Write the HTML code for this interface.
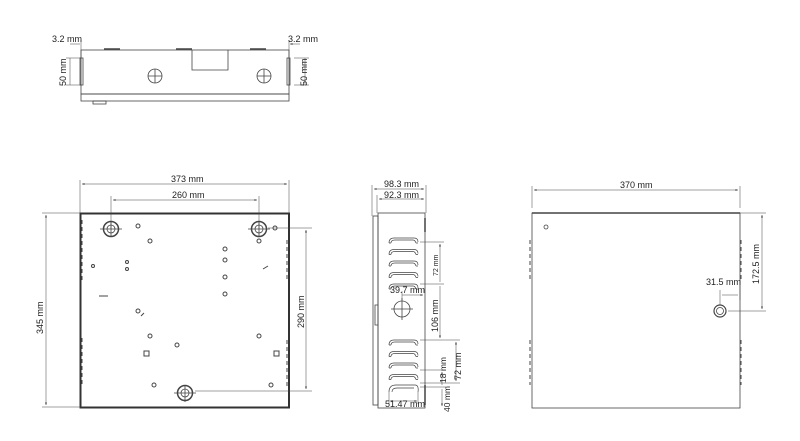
<!DOCTYPE html>
<html><head><style>
html,body{margin:0;padding:0;background:#fff;}
svg{display:block;}
text{font-family:"Liberation Sans",sans-serif;font-size:9px;fill:#222;}
</style></head><body>
<svg width="800" height="441" viewBox="0 0 800 441" xmlns="http://www.w3.org/2000/svg">
<defs>
<marker id="a" viewBox="0 0 6 6" refX="6" refY="3" markerWidth="5" markerHeight="5" orient="auto-start-reverse"><path d="M0,0.8 L6,3 L0,5.2 z" fill="#333"/></marker>
</defs>
<g stroke="#444" fill="none" stroke-width="0.8">
<!-- TOP VIEW -->
<rect x="81" y="50" width="208" height="44"/>
<rect x="81" y="94" width="208" height="7"/>
<rect x="93" y="101" width="13" height="3"/>
<rect x="80" y="58" width="3" height="27"/>
<rect x="287" y="58" width="3" height="27"/>
<path d="M192,50 V70 H228 V50"/>
<path d="M104,49 H120 M176,49 H192 M250,49 H266" stroke-width="1.5"/>
<circle cx="155" cy="76" r="7"/><path d="M148,76 H162 M155,69 V83"/>
<circle cx="264" cy="76" r="7"/><path d="M257,76 H271 M264,69 V83"/>
<path d="M81,40 V58 M289,40 V58" stroke-width="0.5"/>
<path d="M70,44 H80 M300,44 H290" marker-end="url(#a)" stroke-width="0.5"/>
<path d="M66,58 H81 M66,85 H81 M294,58 H309 M294,85 H309" stroke-width="0.5"/>
<path d="M70,58 V85 M305,58 V85" stroke-width="0.5"/>

<!-- FRONT VIEW -->
<rect x="80.5" y="213.5" width="208.5" height="194" stroke-width="2" stroke="#333"/>
<path d="M80,213 V180 M289,213 V180 M111,229 V196 M259,229 V196" stroke-width="0.5"/>
<path d="M82,184 H287" marker-start="url(#a)" marker-end="url(#a)" stroke-width="0.5"/>
<path d="M113,200 H257" marker-start="url(#a)" marker-end="url(#a)" stroke-width="0.5"/>
<path d="M42,213 H80 M42,407 H80" stroke-width="0.5"/>
<path d="M46,215 V405" marker-start="url(#a)" marker-end="url(#a)" stroke-width="0.5"/>
<path d="M268,228 H312 M195,391 H312" stroke-width="0.5"/>
<path d="M306,230 V389" marker-start="url(#a)" marker-end="url(#a)" stroke-width="0.5"/>
<g stroke-width="1.5"><circle cx="111" cy="229" r="7.5"/><circle cx="259" cy="229" r="7.5"/><circle cx="185" cy="393" r="7.5"/></g>
<g stroke-width="0.8"><circle cx="111" cy="229" r="4"/><circle cx="259" cy="229" r="4"/><circle cx="185" cy="393" r="4"/>
<path d="M100,229 H122 M111,222 V236 M248,229 H270 M259,222 V236 M174,393 H196 M185,386 V402"/></g>
<g stroke-width="1">
<circle cx="138" cy="226" r="2"/><circle cx="150" cy="241" r="2"/><circle cx="225" cy="249" r="2"/><circle cx="225" cy="260" r="2"/>
<circle cx="225" cy="277" r="2"/><circle cx="225" cy="294" r="2"/><circle cx="275" cy="228" r="2"/><circle cx="259" cy="241" r="2"/>
<circle cx="93" cy="266" r="1.5"/><circle cx="127" cy="262" r="1.5"/><circle cx="127" cy="269" r="1.5"/>
<circle cx="138" cy="311" r="2"/><circle cx="150" cy="336" r="2"/><circle cx="177" cy="345" r="2"/><circle cx="259" cy="336" r="2"/>
<circle cx="154" cy="385" r="2"/><circle cx="271" cy="385" r="2"/>
<path d="M263,269 L268,266 M141,316 L144,313 M99,296 H108"/>
<rect x="144" y="351" width="5" height="5"/><rect x="274" y="351" width="5" height="5"/>
</g>
<path d="M82,220 V280 M82,338 V385 M287,240 V282 M287,340 V386" stroke-dasharray="4,3" stroke-width="1"/>

<!-- SIDE VIEW -->
<rect x="378" y="213" width="47" height="195"/>
<rect x="373" y="216" width="5" height="189"/>
<path d="M375,305 H378 V325 H375 z"/>
<path d="M425,218 V232 M425,385 V405" stroke-width="1.5"/>
<path d="M372,216 V185 M426,213 V185 M377,213 V195" stroke-width="0.5"/>
<path d="M374,189 H424" marker-start="url(#a)" marker-end="url(#a)" stroke-width="0.5"/>
<path d="M379,199 H424" marker-start="url(#a)" marker-end="url(#a)" stroke-width="0.5"/>
<g stroke-width="0.7">
<g id="lv"><path d="M389,243 q0,-5 5,-5 h20 q4,0 4,4 M391,243 q0,-3 4,-3 h18 q2,0 3,3 M389,243 h2 M416,243 h2"/></g>
<use href="#lv" y="11.5"/><use href="#lv" y="23"/><use href="#lv" y="34.5"/><use href="#lv" y="46"/>
<use href="#lv" y="102"/><use href="#lv" y="113.5"/><use href="#lv" y="125"/><use href="#lv" y="136.5"/>
<path d="M389,392 q0,-7 7,-7 h19 q4,0 3,7 M392,392 q0,-4 5,-4 h17"/>
</g>
<circle cx="402" cy="309" r="8"/><path d="M391,309 H413 M402,298 V320"/>
<path d="M420,242 H444 M420,284 H444 M420,340 H460 M420,383 H460 M420,370 H446 M420,387 H446" stroke-width="0.5"/>
<path d="M440,244 V282 M440,286 V338" marker-start="url(#a)" marker-end="url(#a)" stroke-width="0.5"/>
<path d="M456,342 V381" marker-start="url(#a)" marker-end="url(#a)" stroke-width="0.5"/>
<path d="M442,372 V385 M442,389 V406" marker-start="url(#a)" marker-end="url(#a)" stroke-width="0.5"/>
<path d="M402,291 V300 M402,295 H423" stroke-width="0.5" marker-end="url(#a)"/>
<path d="M389,392 V404 M418,392 V404" stroke-width="0.5"/>
<path d="M390,401 H417" marker-start="url(#a)" marker-end="url(#a)" stroke-width="0.5"/>

<!-- RIGHT VIEW -->
<rect x="532" y="213" width="208" height="195"/>
<path d="M532,213 H740" stroke-width="1.5"/>
<path d="M532,208 V186 M740,208 V186" stroke-width="0.5"/>
<path d="M534,190 H738" marker-start="url(#a)" marker-end="url(#a)" stroke-width="0.5"/>
<path d="M740,213 H766 M728,311 H766" stroke-width="0.5"/>
<path d="M762,215 V309" marker-start="url(#a)" marker-end="url(#a)" stroke-width="0.5"/>
<circle cx="720" cy="311" r="6" stroke-width="1.2"/><circle cx="720" cy="311" r="3.5"/>
<path d="M720,290 V305 M740,285 V300 M722,295 H738" stroke-width="0.5"/>
<circle cx="546" cy="227" r="2"/>
<path d="M530,240 V282 M530,340 V385 M741,240 V282 M741,340 V385" stroke-dasharray="4,3" stroke-width="1"/>
</g>
<!-- labels -->
<text x="52" y="42">3.2 mm</text>
<text x="288" y="42">3.2 mm</text>
<text transform="translate(66,86) rotate(-90)">50 mm</text>
<text transform="translate(307,86) rotate(-90)">50 mm</text>
<text x="171" y="182">373 mm</text>
<text x="172" y="198">260 mm</text>
<text transform="translate(43,334) rotate(-90)">345 mm</text>
<text transform="translate(304,328) rotate(-90)">290 mm</text>
<text x="384" y="187">98.3 mm</text>
<text x="384" y="198">92.3 mm</text>
<text transform="translate(438,276) rotate(-90)" style="font-size:7px">72 mm</text>
<text x="390" y="293">39.7 mm</text>
<text transform="translate(438,332) rotate(-90)">106 mm</text>
<text transform="translate(446,383) rotate(-90)" style="font-size:8.5px">18 mm</text>
<text transform="translate(461,380) rotate(-90)">72 mm</text>
<text transform="translate(450,412) rotate(-90)" style="font-size:8.5px">40 mm</text>
<text x="385" y="407">51.47 mm</text>
<text x="620" y="188">370 mm</text>
<text x="706" y="285">31.5 mm</text>
<text transform="translate(759,284) rotate(-90)">172.5 mm</text>
</svg>
</body></html>
